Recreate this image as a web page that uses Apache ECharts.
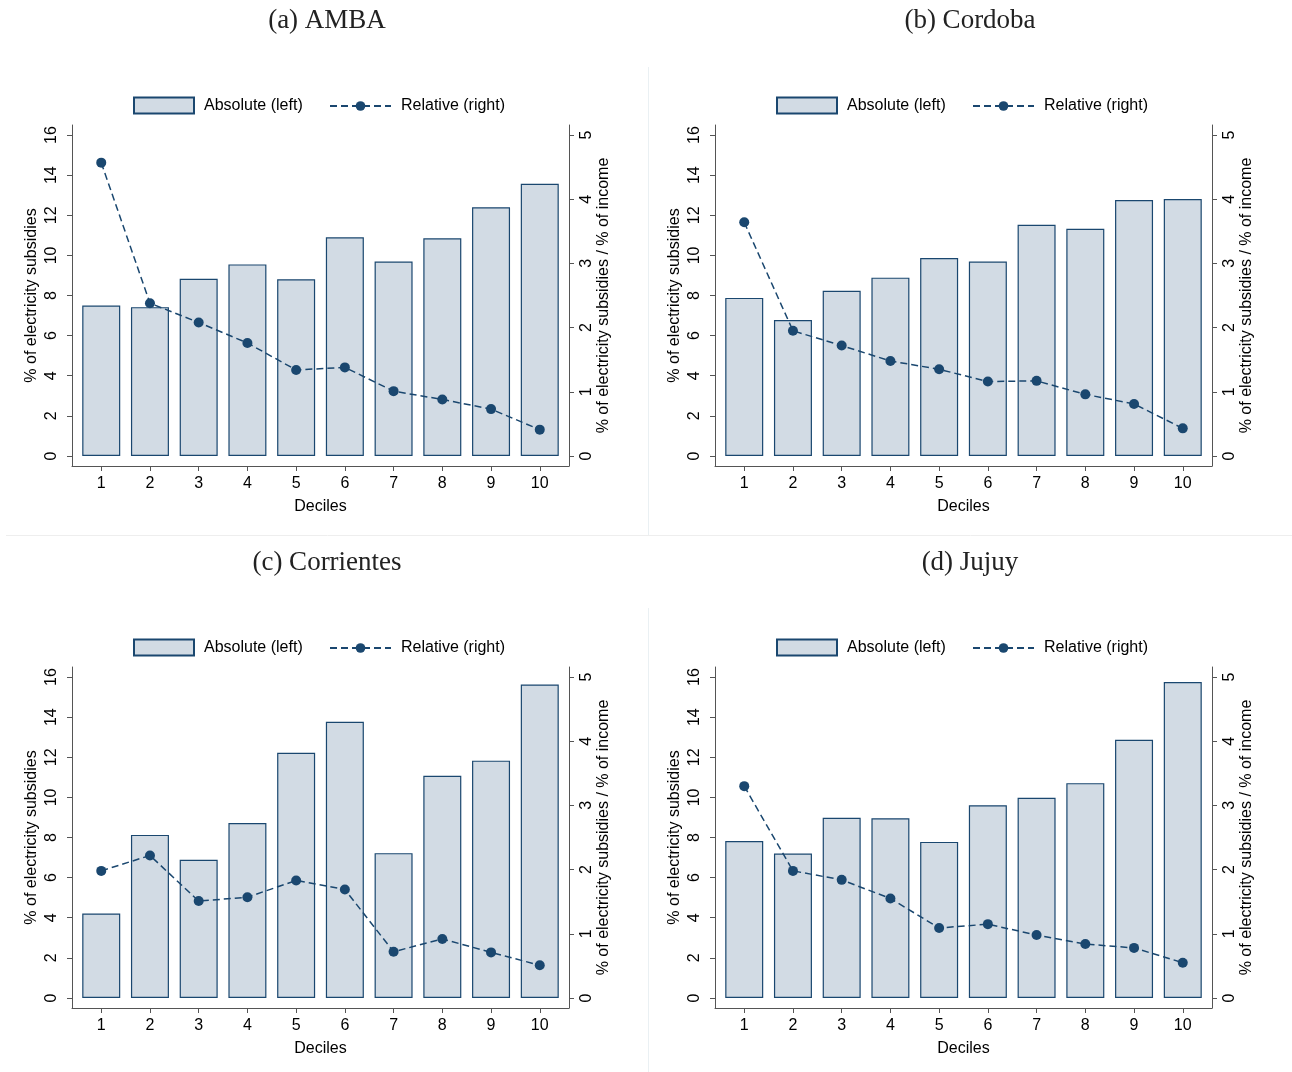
<!DOCTYPE html>
<html><head><meta charset="utf-8">
<script src="https://cdn.jsdelivr.net/npm/echarts@6/dist/echarts.min.js"></script>
<style>html,body{margin:0;padding:0;background:#fff}#c{width:1292px;height:1072px}</style>
</head><body><div id="c"></div>
<script>
// ---- data ----
const deciles = [1, 2, 3, 4, 5, 6, 7, 8, 9, 10];
const leftTicks = [0, 2, 4, 6, 8, 10, 12, 14, 16];
const rightTicks = [0, 1, 2, 3, 4, 5];
const panelTitles = ['(a) AMBA', '(b) Cordoba', '(c) Corrientes', '(d) Jujuy'];
const seriesNames = ['Absolute (left)', 'Relative (right)'];

const absAMBA = [7.5, 7.42, 8.83, 9.55, 8.81, 10.9, 9.69, 10.85, 12.4, 13.57];
const relAMBA = [4.57, 2.38, 2.08, 1.76, 1.34, 1.38, 1.01, 0.88, 0.73, 0.41];
const absCordoba = [7.88, 6.78, 8.24, 8.89, 9.87, 9.69, 11.53, 11.33, 12.76, 12.81];
const relCordoba = [3.64, 1.95, 1.72, 1.48, 1.35, 1.16, 1.17, 0.96, 0.81, 0.43];
const absCorrientes = [4.21, 8.13, 6.89, 8.72, 12.22, 13.77, 7.22, 11.08, 11.83, 15.63];
const relCorrientes = [1.98, 2.22, 1.51, 1.57, 1.83, 1.69, 0.72, 0.92, 0.71, 0.51];
const absJujuy = [7.82, 7.20, 8.98, 8.96, 7.78, 9.61, 9.98, 10.71, 12.87, 15.75];
const relJujuy = [3.30, 1.98, 1.84, 1.55, 1.09, 1.15, 0.98, 0.84, 0.78, 0.55];

const absAll = [absAMBA, absCordoba, absCorrientes, absJujuy];
const relAll = [relAMBA, relCordoba, relCorrientes, relJujuy];

// ---- layout / style ----
const NAVY = '#1a476f';
const FILL = '#d2dbe4';
const AXIS = '#555555';
const SANS = 'Liberation Sans, Arial, sans-serif';
const FS = 16;
const offsets = [[0, 0], [643, 0], [0, 542], [643, 542]];
const GL = 72, GW = 497, GT = 125, GH = 341;

const option = {
  animation: false,
  backgroundColor: '#fff',
  grid: [], xAxis: [], yAxis: [], series: [], legend: [], graphic: []
};

offsets.forEach((o, i) => {
  const [dx, dy] = o;
  option.grid.push({ left: GL + dx, top: GT + dy, width: GW, height: GH, containLabel: false });
  option.xAxis.push({
    type: 'value', gridIndex: i, min: 0.4, max: 10.6,
    name: 'Deciles', nameLocation: 'middle', nameGap: 33,
    nameTextStyle: { fontFamily: SANS, fontSize: FS, color: '#000' },
    axisLine: { show: true, onZero: false, lineStyle: { color: AXIS, width: 1 } },
    axisTick: { show: true, length: 5, customValues: deciles, lineStyle: { color: AXIS, width: 1 } },
    axisLabel: { customValues: deciles, margin: 10, fontFamily: SANS, fontSize: FS, color: '#000' },
    splitLine: { show: false }
  });
  option.yAxis.push({
    type: 'value', gridIndex: i, position: 'left', min: -0.5, max: 16.5,
    name: '% of electricity subsidies', nameLocation: 'middle', nameGap: 32,
    nameTextStyle: { fontFamily: SANS, fontSize: FS, color: '#000' },
    axisLine: { show: true, onZero: false, lineStyle: { color: AXIS, width: 1 } },
    axisTick: { show: true, length: 5, customValues: leftTicks, lineStyle: { color: AXIS, width: 1 } },
    axisLabel: { customValues: leftTicks, rotate: 90, margin: 12, fontFamily: SANS, fontSize: FS, color: '#000' },
    splitLine: { show: false }
  });
  option.yAxis.push({
    type: 'value', gridIndex: i, position: 'right', min: -0.15625, max: 5.15625,
    name: '% of electricity subsidies / % of income', nameLocation: 'middle', nameGap: 25,
    nameTextStyle: { fontFamily: SANS, fontSize: FS, color: '#000' },
    axisLine: { show: true, onZero: false, lineStyle: { color: AXIS, width: 1 } },
    axisTick: { show: true, length: 5, customValues: rightTicks, lineStyle: { color: AXIS, width: 1 } },
    axisLabel: { customValues: rightTicks, rotate: 90, margin: 10, fontFamily: SANS, fontSize: FS, color: '#000' },
    splitLine: { show: false }
  });
  option.series.push({
    name: seriesNames[0], type: 'bar', xAxisIndex: i, yAxisIndex: 2 * i,
    barWidth: 38,
    itemStyle: { color: FILL, borderColor: NAVY, borderWidth: 1.2 },
    data: deciles.map((d, k) => [d, absAll[i][k]])
  });
  option.series.push({
    name: seriesNames[1], type: 'line', xAxisIndex: i, yAxisIndex: 2 * i + 1,
    symbol: 'circle', symbolSize: 10,
    lineStyle: { color: NAVY, width: 1.5, type: [7, 4] },
    itemStyle: { color: NAVY },
    data: deciles.map((d, k) => [d, relAll[i][k]])
  });
  option.legend.push({
    data: [{ name: seriesNames[0], icon: 'rect' }], left: 133 + dx, top: 96.5 + dy, padding: 0,
    itemWidth: 60, itemHeight: 16,
    textStyle: { fontFamily: SANS, fontSize: FS, color: '#000', padding: [0, 0, 0, 5] }
  });
  option.legend.push({
    data: [seriesNames[1]], left: 329 + dx, top: 98 + dy, padding: 0,
    itemWidth: 61, itemHeight: 12,
    textStyle: { fontFamily: SANS, fontSize: FS, color: '#000', padding: [0, 0, 0, 5] }
  });
  const cx = [327, 970][i % 2];
  option.graphic.push({
    type: 'text', silent: true,
    style: { text: panelTitles[i], x: cx, y: 21 + dy, textAlign: 'center', textVerticalAlign: 'middle',
      font: '27px "Liberation Serif", "Times New Roman", serif', fill: '#222' }
  });
});

// separators
option.graphic.push(
  { type: 'line', silent: true, shape: { x1: 6, y1: 535.5, x2: 1292, y2: 535.5 }, style: { stroke: '#eeeeee', lineWidth: 1 } },
  { type: 'line', silent: true, shape: { x1: 648.5, y1: 67, x2: 648.5, y2: 535 }, style: { stroke: '#eaf0f3', lineWidth: 1 } },
  { type: 'line', silent: true, shape: { x1: 648.5, y1: 608, x2: 648.5, y2: 1072 }, style: { stroke: '#eaf0f3', lineWidth: 1 } }
);

const chart = echarts.init(document.getElementById('c'), null, { renderer: 'canvas' });
chart.setOption(option);
</script>
</body></html>
